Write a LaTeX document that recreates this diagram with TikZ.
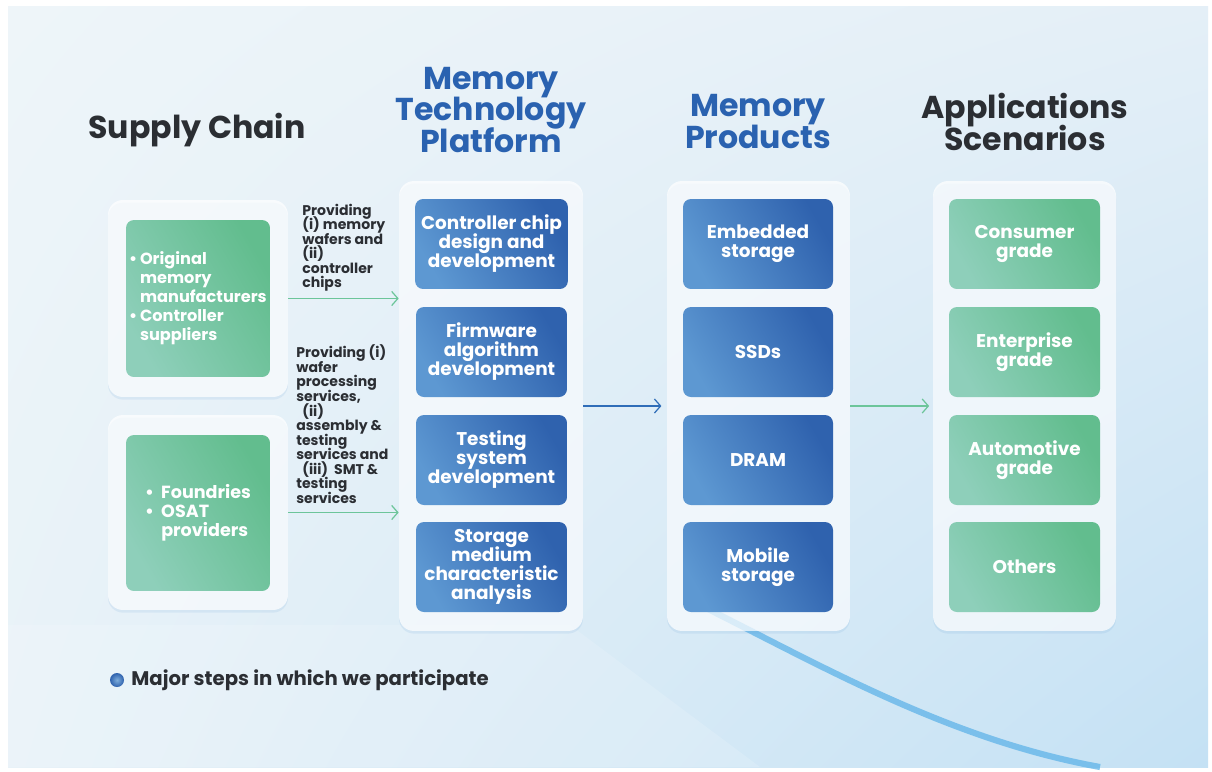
\documentclass[tikz,border=0pt]{standalone}
\usepackage{fontspec}
\setmainfont{Poppins}
\usetikzlibrary{positioning,arrows.meta,calc,shadows,shadings}
\setlength{\lineskiplimit}{-20pt}

\definecolor{bgA}{HTML}{EEF5F9}
\definecolor{bgB}{HTML}{E4EFF7}
\definecolor{bgC}{HTML}{E8F2F8}
\definecolor{bgD}{HTML}{C4E1F4}
\definecolor{greenA}{HTML}{8ECFBA}
\definecolor{greenB}{HTML}{62BD8E}
\definecolor{blueA}{HTML}{5D98D2}
\definecolor{blueB}{HTML}{2F62AE}
\definecolor{titleblue}{HTML}{2A62B0}
\definecolor{darktext}{HTML}{2B2E33}
\definecolor{arrowgreen}{HTML}{6CC59A}
\definecolor{arrowblue}{HTML}{2F6DB8}
\definecolor{swoosh}{HTML}{5FB3E8}

\begin{document}
\begin{tikzpicture}[
    x=0.02cm, y=-0.02cm,
    panel/.style={rectangle, fill=white, fill opacity=0.72, rounded corners=8.5pt,
                  drop shadow={shadow xshift=0pt, shadow yshift=-1.5pt, opacity=0.12, fill=blueA}},
    bluebox/.style={rectangle, rounded corners=4.5pt, left color=blueA, right color=blueB,
                    shading angle=120, text=white, align=center,
                    minimum width=3.02cm, minimum height=1.8cm,
                    font=\bfseries\fontsize{10.5}{10.8}\selectfont},
    greenbox/.style={bluebox, left color=greenA, right color=greenB, shading angle=120},
    title/.style={align=center, font=\bfseries\fontsize{18}{18.2}\selectfont},
    note/.style={align=left, anchor=south west, text=darktext, inner sep=0pt,
                 font=\bfseries\fontsize{8}{8.3}\selectfont},
    line/.style={draw, line width=0.7pt, -{Straight Barb[length=3.5pt, width=8pt]}}
]
    % background
    \fill[white] (0,0) rectangle (1212,771);
    \shade[upper left=bgA, upper right=bgB, lower left=bgC, lower right=bgD]
        (8,6) rectangle (1208,767);
    \fill[white, opacity=0.15] (8,625) -- (570,625) -- (760,767) -- (8,767) -- cycle;
    \draw[swoosh, opacity=0.75, line width=3.5pt]
        (700,605) .. controls (820,665) and (950,740) .. (1100,767);

    % titles
    \node[title, text=darktext] (tsupply) at (197,130) {Supply Chain};
    \node[title, text=titleblue] (tplat) at (491,110) {Memory\\Technology\\Platform};
    \node[title, text=titleblue] (tprod) at (758,122) {Memory\\Products};
    \node[title, text=darktext] (tapp) at (1025,122) {Applications\\Scenarios};

    % panels
    \node[panel, minimum width=3.6cm, minimum height=3.94cm] (supA) at (198,298.5) {};
    \node[panel, minimum width=3.6cm, minimum height=3.9cm] (supB) at (198,512.5) {};
    \node[panel, minimum width=3.68cm, minimum height=9cm] (plat) at (491,406) {};
    \node[panel, minimum width=3.66cm, minimum height=9cm] (prod) at (758.5,406) {};
    \node[panel, minimum width=3.66cm, minimum height=9cm] (app) at (1024.5,406) {};

    % supply chain
    \node[greenbox, minimum width=2.88cm, minimum height=3.14cm, align=left, inner sep=1pt,
          font=\bfseries\fontsize{9.2}{10.8}\selectfont] (oem) at (198,298.5)
        {\textbullet\,Original\\\phantom{\textbullet\,}memory\\\phantom{\textbullet\,}manufacturers\\
         \textbullet\,Controller\\\phantom{\textbullet\,}suppliers};
    \node[greenbox, minimum width=2.88cm, minimum height=3.12cm, align=left,
          font=\bfseries\fontsize{10}{10.8}\selectfont] (fab) at (198,513)
        {\textbullet\ \ Foundries\\\textbullet\ \ OSAT\\\phantom{\textbullet\ \ }providers};

    % technology platform
    \node[bluebox] (ctrl) at (491.5,244) {Controller chip\\design and\\development};
    \node[bluebox] (fw)   at (491.5,352) {Firmware\\algorithm\\development};
    \node[bluebox] (test) at (491.5,460) {Testing\\system\\development};
    \node[bluebox] (med)  at (491.5,567) {Storage\\medium\\characteristic\\analysis};

    % products
    \node[bluebox, minimum width=3cm] (emb)  at (758,244) {Embedded\\storage};
    \node[bluebox, minimum width=3cm] (ssd)  at (758,352) {SSDs};
    \node[bluebox, minimum width=3cm] (dram) at (758,460) {DRAM};
    \node[bluebox, minimum width=3cm] (mob)  at (758,567) {Mobile\\storage};

    % applications
    \node[greenbox] (cons) at (1024.5,244) {Consumer\\grade};
    \node[greenbox] (ent)  at (1024.5,352) {Enterprise\\grade};
    \node[greenbox] (auto) at (1024.5,460) {Automotive\\grade};
    \node[greenbox] (oth)  at (1024.5,567) {Others};

    % connectors
    \path [line, arrowgreen] (supA.east) -- (plat.west |- supA.east);
    \path [line, arrowgreen] (supB.east) -- (plat.west |- supB.east);
    \path [line, arrowblue, shorten >=3pt] (plat.east) -- (prod.west);
    \path [line, arrowgreen, shorten >=2pt] (prod.east) -- (app.west);

    \node[note] (noteA) at (302,292) {Providing\\(i) memory\\wafers and\\(ii)\\controller\\chips};
    \node[note] (noteB) at (296,504) {Providing (i)\\wafer\\processing\\services,\\
        \ \ (ii)\\assembly \&\\testing\\services and\\\ \ (iii)\ \ SMT \&\\testing\\services};

    % legend
    \shade[inner color=blueA!80!white, outer color=blueB] (117,680) circle (7);
    \node[anchor=west, text=darktext, font=\bfseries\fontsize{11.2}{12}\selectfont, inner sep=0pt]
        (legend) at (131,680) {Major steps in which we participate};
\end{tikzpicture}
\end{document}
